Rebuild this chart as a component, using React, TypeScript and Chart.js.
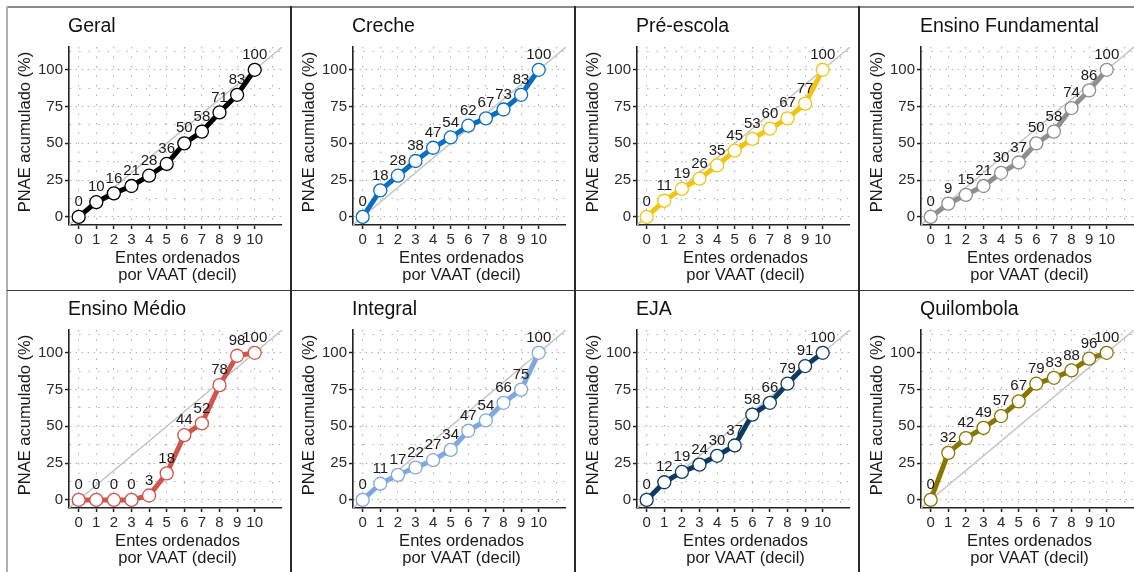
import React, { useEffect, useRef } from "react";
import { Chart, registerables } from "chart.js";

Chart.register(...registerables);

const DECILES = [0, 1, 2, 3, 4, 5, 6, 7, 8, 9, 10];
const X_GRID = [0, 1, 2, 3, 4, 5, 6, 7, 8, 9, 10, 11];
const Y_GRID = [0, 12.5, 25, 37.5, 50, 62.5, 75, 87.5, 100, 112.5];
const Y_TICK_LABELS = [0, 25, 50, 75, 100];

const TITLES = [
  "Geral",
  "Creche",
  "Pré-escola",
  "Ensino Fundamental",
  "Ensino Médio",
  "Integral",
  "EJA",
  "Quilombola",
];

const GERAL = [0, 10, 16, 21, 28, 36, 50, 58, 71, 83, 100];
const CRECHE = [0, 18, 28, 38, 47, 54, 62, 67, 73, 83, 100];
const PRE_ESCOLA = [0, 11, 19, 26, 35, 45, 53, 60, 67, 77, 100];
const FUNDAMENTAL = [0, 9, 15, 21, 30, 37, 50, 58, 74, 86, 100];
const MEDIO = [0, 0, 0, 0, 3, 18, 44, 52, 78, 98, 100];
const INTEGRAL = [0, 11, 17, 22, 27, 34, 47, 54, 66, 75, 100];
const EJA = [0, 12, 19, 24, 30, 37, 58, 66, 79, 91, 100];
const QUILOMBOLA = [0, 32, 42, 49, 57, 67, 79, 83, 88, 96, 100];

const SERIES = [GERAL, CRECHE, PRE_ESCOLA, FUNDAMENTAL, MEDIO, INTEGRAL, EJA, QUILOMBOLA];
const COLORS = [
  "#000000",
  "#0a6fc2",
  "#f2c40f",
  "#8f8f8f",
  "#d0554a",
  "#80a8e0",
  "#0c3a63",
  "#8a7500",
];

const Y_TITLE = "PNAE acumulado (%)";
const X_TITLE_1 = "Entes ordenados";
const X_TITLE_2 = "por VAAT (decil)";

const X_MIN = -0.55;
const X_MAX = 11.55;
const Y_MIN = -5.5;
const Y_MAX = 115.5;

const FONT = "'Liberation Sans', Arial, sans-serif";
const PANEL_W = 284;
const PANEL_H = 283;

function Panel({ idx }: { idx: number }) {
  const ref = useRef<HTMLCanvasElement | null>(null);
  useEffect(() => {
    const canvas = ref.current;
    if (!canvas) return;
    const values = SERIES[idx];
    const color = COLORS[idx];
    const title = TITLES[idx];

    const textPlugin = {
      id: "panelText",
      afterDatasetsDraw(chart: any) {
        const ctx = chart.ctx;
        const meta = chart.getDatasetMeta(0);
        ctx.save();
        ctx.fillStyle = "#1a1a1a";
        ctx.font = `15px ${FONT}`;
        ctx.textAlign = "center";
        ctx.textBaseline = "middle";
        meta.data.forEach((pt: any, i: number) => {
          ctx.fillText(String(values[i]), pt.x, pt.y - 15);
        });
        ctx.restore();
      },
      afterDraw(chart: any) {
        const ctx = chart.ctx;
        const a = chart.chartArea;
        ctx.save();
        ctx.fillStyle = "#111";
        ctx.font = `19.5px ${FONT}`;
        ctx.textAlign = "left";
        ctx.textBaseline = "middle";
        ctx.fillText(title, a.left - 1, 20);

        ctx.font = `16.5px ${FONT}`;
        ctx.fillStyle = "#1a1a1a";
        ctx.textAlign = "center";
        const cx = (a.left + a.right) / 2;
        ctx.fillText(X_TITLE_1, cx + 2, a.bottom + 33);
        ctx.fillText(X_TITLE_2, cx + 2, a.bottom + 50);

        ctx.translate(18, (a.top + a.bottom) / 2 - 4);
        ctx.rotate(-Math.PI / 2);
        ctx.fillText(Y_TITLE, 0, 0);
        ctx.restore();
      },
    };

    const chart = new Chart(canvas, {
      type: "line",
      data: {
        datasets: [
          {
            data: DECILES.map((d, i) => ({ x: d, y: values[i] })),
            borderColor: color,
            borderWidth: 5,
            pointRadius: 6.5,
            pointBorderWidth: 1.3,
            pointBackgroundColor: "#ffffff",
            pointBorderColor: color,
            tension: 0,
          },
          {
            data: [
              { x: X_MIN, y: Y_MIN },
              { x: X_MAX, y: Y_MAX },
            ],
            borderColor: "#c4c4c4",
            borderWidth: 1.4,
            pointRadius: 0,
          },
        ],
      },
      options: {
        animation: false,
        responsive: false,
        devicePixelRatio: 1,
        events: [],
        layout: { padding: { left: 0, top: 40, right: 9, bottom: 0 } },
        plugins: {
          legend: { display: false },
          tooltip: { enabled: false },
          title: { display: false },
        },
        scales: {
          x: {
            type: "linear",
            min: X_MIN,
            max: X_MAX,
            afterBuildTicks: (s: any) => {
              s.ticks = X_GRID.map((v) => ({ value: v }));
            },
            afterFit: (s: any) => {
              s.height = 65;
            },
            ticks: {
              autoSkip: false,
              maxRotation: 0,
              padding: 2,
              color: "#2a2a2a",
              font: { size: 15, family: FONT },
              callback: (v: any) => (v <= 10 ? String(v) : ""),
            },
            grid: {
              color: "#b0b0b0",
              lineWidth: 1.1,
              tickLength: 4,
              tickWidth: 1.5,
              tickColor: (c: any) =>
                c.tick && c.tick.value <= 10 ? "#222" : "rgba(0,0,0,0)",
            },
            border: { display: true, color: "#222", width: 1.6, dash: [1.5, 8] },
          },
          y: {
            type: "linear",
            min: Y_MIN,
            max: Y_MAX,
            afterBuildTicks: (s: any) => {
              s.ticks = Y_GRID.map((v) => ({ value: v }));
            },
            afterFit: (s: any) => {
              s.width = 62;
            },
            ticks: {
              autoSkip: false,
              padding: 2,
              color: "#2a2a2a",
              font: { size: 15, family: FONT },
              callback: (v: any) => (Y_TICK_LABELS.includes(v) ? String(v) : ""),
            },
            grid: {
              color: "#b0b0b0",
              lineWidth: 1.1,
              tickLength: 4,
              tickWidth: 1.5,
              tickColor: (c: any) =>
                c.tick && Y_TICK_LABELS.includes(c.tick.value) ? "#222" : "rgba(0,0,0,0)",
            },
            border: {
              display: true,
              color: "#222",
              width: 1.6,
              dash: (c: any) =>
                c.tick && Y_TICK_LABELS.includes(c.tick.value) ? [1.5, 4.5] : [1.5, 8],
            },
          },
        },
      },
      plugins: [textPlugin],
    } as any);
    return () => chart.destroy();
  }, [idx]);

  const col = idx % 4;
  const row = Math.floor(idx / 4);
  return (
    <div
      style={{
        position: "absolute",
        left: 7 + col * PANEL_W,
        top: 7 + row * PANEL_H,
        width: PANEL_W,
        height: PANEL_H,
      }}
    >
      <canvas ref={ref} width={PANEL_W} height={PANEL_H} style={{ display: "block" }} />
    </div>
  );
}

export default function App() {
  const lines: React.ReactNode[] = [];
  lines.push(
    <div key="top" style={{ position: "absolute", left: 7, top: 6, width: 1134, height: 1.5, background: "#8a8a8a" }} />
  );
  lines.push(
    <div key="left" style={{ position: "absolute", left: 6, top: 6, width: 1.5, height: 572, background: "#b0b0b0" }} />
  );
  lines.push(
    <div key="mid" style={{ position: "absolute", left: 7, top: 289.5, width: 1134, height: 1.5, background: "#3a3a3a" }} />
  );
  [1, 2, 3].forEach((c) =>
    lines.push(
      <div
        key={"v" + c}
        style={{ position: "absolute", left: 7 + c * PANEL_W - 1, top: 6, width: 1.5, height: 572, background: "#2a2a2a" }}
      />
    )
  );
  return (
    <div
      style={{
        position: "absolute",
        left: 0,
        top: 0,
        width: 1134,
        height: 572,
        overflow: "hidden",
        background: "#ffffff",
      }}
    >
      {TITLES.map((_, i) => (
        <Panel key={i} idx={i} />
      ))}
      {lines}
    </div>
  );
}
